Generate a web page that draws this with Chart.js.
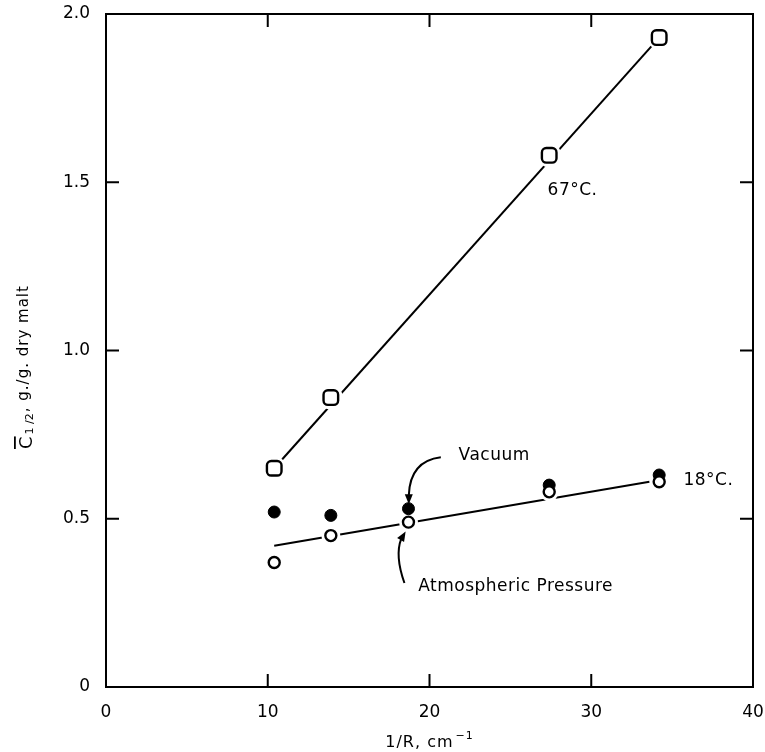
<!DOCTYPE html>
<html>
<head>
<meta charset="utf-8">
<script src="https://cdn.jsdelivr.net/npm/chart.js@4.4.0/dist/chart.umd.min.js"></script>
<style>
    html, body { margin: 0; padding: 0; background: #fff; }
    #wrap { width: 765px; height: 752px; }
</style>
</head>
<body>
<div id="wrap"><canvas id="chart"></canvas></div>
<script>
// Data
const invR18 = [10.4, 13.9, 18.7, 27.4, 34.2];
const vacuum18 = [0.52, 0.51, 0.53, 0.60, 0.63];
const atmos18 = [0.37, 0.45, 0.49, 0.58, 0.61];
const invR67 = [10.4, 13.9, 27.4, 34.2];
const atmos67 = [0.65, 0.86, 1.58, 1.93];
// drawn trend lines (end points)
const line67X = [10.4, 34.2];
const line67Y = [0.65, 1.93];
const line18X = [10.4, 33.6];
const line18Y = [0.42, 0.61];
const xTicks = [0, 10, 20, 30, 40];
const yTicks = [0, 0.5, 1.0, 1.5, 2.0];

const INK = '#000';
const FONT = '"DejaVu Sans", sans-serif';

function pts(xs, ys) {
    return xs.map((x, i) => ({ x: x, y: ys[i] }));
}

function arrowHead(ctx, x, y, ang) {
    ctx.save();
    ctx.translate(x, y);
    ctx.rotate(ang);
    ctx.beginPath();
    ctx.moveTo(4, 0);
    ctx.lineTo(-6, -4);
    ctx.lineTo(-6, 4);
    ctx.closePath();
    ctx.fill();
    ctx.restore();
}

// Box, inside ticks, notes and axis titles
const figurePlugin = {
    id: 'figure',
    afterDraw(chart) {
        const ctx = chart.ctx;
        const a = chart.chartArea;
        const xs = chart.scales.x;
        const ys = chart.scales.y;
        const X = v => xs.getPixelForValue(v);
        const Y = v => ys.getPixelForValue(v);
        ctx.save();
        ctx.strokeStyle = INK;
        ctx.fillStyle = INK;
        ctx.lineWidth = 2;
        ctx.strokeRect(a.left, a.top, a.right - a.left, a.bottom - a.top);

        // inside tick marks
        const len = 13;
        ctx.beginPath();
        xTicks.slice(1, -1).forEach(v => {
            ctx.moveTo(X(v), a.bottom); ctx.lineTo(X(v), a.bottom - len);
            ctx.moveTo(X(v), a.top); ctx.lineTo(X(v), a.top + len);
        });
        yTicks.slice(1, -1).forEach(v => {
            ctx.moveTo(a.left, Y(v)); ctx.lineTo(a.left + len, Y(v));
            ctx.moveTo(a.right, Y(v)); ctx.lineTo(a.right - len, Y(v));
        });
        ctx.stroke();

        // text notes
        ctx.font = '17px ' + FONT;
        ctx.textBaseline = 'alphabetic';
        ctx.textAlign = 'left';
        ctx.letterSpacing = '0.5px';
        ctx.fillText('67\u00b0C.', X(27.3), Y(1.462));
        ctx.fillText('18\u00b0C.', X(35.7), Y(0.60));
        ctx.fillText('Vacuum', X(21.8), Y(0.675));
        ctx.fillText('Atmospheric Pressure', X(19.3), Y(0.285));

        // curved arrows
        ctx.beginPath();
        ctx.moveTo(X(20.7), Y(0.683));
        ctx.quadraticCurveTo(X(18.8), Y(0.672), X(18.72), Y(0.57));
        ctx.stroke();
        arrowHead(ctx, X(18.72), Y(0.555), Math.PI / 2);

        ctx.beginPath();
        ctx.moveTo(X(18.45), Y(0.309));
        ctx.quadraticCurveTo(X(17.85), Y(0.39), X(18.25), Y(0.44));
        ctx.stroke();
        arrowHead(ctx, X(18.4), Y(0.452), -Math.PI / 3);

        // x axis title: 1/R, cm^-1
        ctx.font = '16px ' + FONT;
        ctx.letterSpacing = '1px';
        const main = '1/R, cm';
        const mw = ctx.measureText(main).width;
        ctx.font = '11px ' + FONT;
        const sup = '\u22121';
        const supw = ctx.measureText(sup).width;
        const x0 = (a.left + a.right) / 2 - (mw + supw + 2) / 2;
        ctx.font = '16px ' + FONT;
        ctx.fillText(main, x0, 747);
        ctx.font = '11px ' + FONT;
        ctx.fillText(sup, x0 + mw + 2, 739);

        // y axis title: C-bar 1/2, g./g. dry malt
        ctx.translate(32, 449);
        ctx.rotate(-Math.PI / 2);
        ctx.font = '18px ' + FONT;
        ctx.letterSpacing = '0px';
        ctx.fillText('C', 0, 0);
        const cw = ctx.measureText('C').width;
        ctx.fillRect(0, -18, cw, 1.8);
        ctx.font = '11px ' + FONT;
        ctx.fillText('1 /2', cw + 2, 1);
        const sw = ctx.measureText('1 /2').width;
        ctx.font = '15px ' + FONT;
        ctx.letterSpacing = '1px';
        ctx.fillText(', g./g. dry malt', cw + sw + 3, -4);
        ctx.restore();
    }
};

new Chart(document.getElementById('chart').getContext('2d'), {
    type: 'scatter',
    data: {
        datasets: [{
            label: 'Atmospheric 18',
            data: pts(invR18, atmos18),
            pointStyle: 'circle',
            pointRadius: 5.5,
            pointBorderWidth: 2.4,
            pointBorderColor: INK,
            pointBackgroundColor: '#fff',
            order: 0
        }, {
            label: 'Vacuum 18',
            data: pts(invR18, vacuum18),
            pointStyle: 'circle',
            pointRadius: 6,
            pointBorderWidth: 1,
            pointBorderColor: INK,
            pointBackgroundColor: INK,
            order: 1
        }, {
            label: '67 C',
            data: pts(invR67, atmos67),
            pointStyle: 'rectRounded',
            pointRadius: 8.5,
            pointBorderWidth: 2.4,
            pointBorderColor: INK,
            pointBackgroundColor: '#fff',
            order: 0
        }, {
            label: 'halo 67',
            data: pts(invR67, atmos67),
            pointStyle: 'circle',
            pointRadius: 12,
            pointBorderWidth: 0,
            pointBackgroundColor: '#fff',
            order: 2
        }, {
            label: 'halo 18',
            data: pts(invR18, atmos18),
            pointStyle: 'circle',
            pointRadius: 9.5,
            pointBorderWidth: 0,
            pointBackgroundColor: '#fff',
            order: 2
        }, {
            label: 'line 67',
            data: pts(line67X, line67Y),
            showLine: true,
            borderColor: INK,
            borderWidth: 2,
            pointRadius: 0,
            order: 3
        }, {
            label: 'line 18',
            data: pts(line18X, line18Y),
            showLine: true,
            borderColor: INK,
            borderWidth: 2,
            pointRadius: 0,
            order: 3
        }]
    },
    options: {
        responsive: true,
        maintainAspectRatio: false,
        animation: false,
        layout: {
            padding: { left: 0, right: 0, top: 14, bottom: 0 }
        },
        plugins: {
            legend: { display: false },
            tooltip: { enabled: false }
        },
        scales: {
            x: {
                type: 'linear',
                min: 0,
                max: 40,
                afterBuildTicks: axis => { axis.ticks = xTicks.map(v => ({ value: v })); },
                afterFit: axis => { axis.height = 65; axis.paddingLeft = 0; axis.paddingRight = 8; },
                grid: { display: false, drawTicks: false },
                border: { display: false },
                ticks: {
                    padding: 15,
                    color: INK,
                    font: { family: FONT, size: 17 },
                    maxRotation: 0
                }
            },
            y: {
                type: 'linear',
                min: 0,
                max: 2,
                afterBuildTicks: axis => { axis.ticks = yTicks.map(v => ({ value: v })); },
                afterFit: axis => { axis.width = 106; axis.paddingTop = 0; axis.paddingBottom = 0; },
                grid: { display: false, drawTicks: false },
                border: { display: false },
                ticks: {
                    padding: 16,
                    color: INK,
                    font: { family: FONT, size: 17 },
                    callback: v => (v === 0 ? '0' : v.toFixed(1))
                }
            }
        }
    },
    plugins: [figurePlugin]
});
</script>
</body>
</html>
